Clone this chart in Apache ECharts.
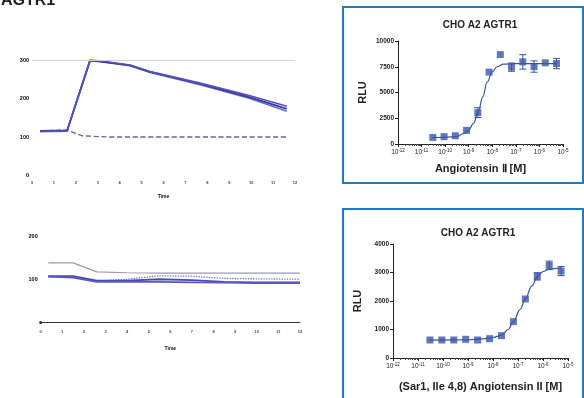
<!DOCTYPE html>
<html>
<head>
<meta charset="utf-8">
<script src="https://cdn.jsdelivr.net/npm/echarts@6/dist/echarts.min.js"></script>
<style>
  html, body { margin: 0; padding: 0; background: #fff; }
  #main { position: absolute; left: 0; top: 0; width: 584px; height: 398px; }
  #kin { position: absolute; left: 0; top: 0; width: 340px; height: 398px; filter: blur(0.5px); }
</style>
</head>
<body>
<div id="main"></div>
<div id="kin"></div>
<script>
// dose-response, concentration in M (3-fold dilutions)
const conc = [3e-11, 9e-11, 2.7e-10, 8.1e-10, 2.43e-9, 7.29e-9, 2.19e-8, 6.56e-8, 1.97e-7, 5.9e-7, 1.77e-6, 5.3e-6];
// Angiotensin II
const agRLU = [640, 710, 800, 1320, 3050, 6980, 8680, 7460, 7970, 7520, 7880, 7810];
const agErr = [0, 0, 0, 0, 480, 0, 0, 400, 700, 550, 0, 500];
const agFitX = [3e-11, 1e-10, 3e-10, 6e-10, 1e-9, 1.6e-9, 2.5e-9, 4e-9, 6e-9, 1e-8, 1.6e-8, 3e-8, 1e-7, 5.3e-6];
const agFitY = [630, 650, 720, 1000, 1350, 2000, 3100, 4600, 6000, 7000, 7500, 7750, 7800, 7800];
// (Sar1, Ile 4,8) Angiotensin II
const saRLU = [632, 632, 632, 655, 632, 678, 784, 1275, 2070, 2865, 3250, 3050];
const saErr = [0, 0, 0, 0, 0, 0, 0, 0, 0, 130, 150, 160];
const saFitX = [3e-11, 1e-9, 5e-9, 1e-8, 2.2e-8, 4e-8, 6.6e-8, 1.2e-7, 2e-7, 3.5e-7, 6e-7, 1e-6, 1.8e-6, 5.3e-6];
const saFitY = [630, 640, 680, 720, 800, 1000, 1280, 1700, 2080, 2520, 2850, 3030, 3120, 3160];

// kinetic traces (left)
const ktTime = [0.37, 1.6, 2.65, 3.1, 4.47, 5.39, 7.67, 9.95, 11.63];
const ktA = [115, 116, 300, 298, 287, 270, 240, 207, 180];
const ktB = [114, 115, 299, 297, 285, 268, 236, 200, 167];
const ktC = [116, 117, 298, 296, 286, 269, 238, 203, 173];
const ktCtrlTime = [0.37, 1.6, 2.3, 3.5, 11.7];
const ktCtrl = [116, 118, 103, 100, 100];

const kbTime = [0.35, 1.5, 2.6, 4, 5.5, 7, 8.5, 10, 12];
const kbGray = [138, 138, 117, 115, 114, 114, 114, 114, 114];
const kbBlue1 = [107, 107, 97, 97, 100, 98, 94, 93, 93];
const kbBlue2 = [105, 105, 96, 100, 108, 107, 102, 101, 100];
const kbBlue3 = [106, 104, 94, 94, 94, 93, 92, 91, 91];

const ptCol = '#3a55a6';
const boxCol = '#1b7cc4';
const font = 'Liberation Sans, Arial, sans-serif';

const zip = (xs, ys) => xs.map((x, i) => [x, ys[i]]);

// minor ticks 2..9 per decade
const minorVals = [];
for (let e = -12; e < -5; e++) {
  for (let m = 2; m <= 9; m++) minorVals.push(m * Math.pow(10, e));
}

function logAxes(grid, name, gap) {
  return [{
    type: 'log', gridIndex: grid, position: 'bottom', min: 1e-12, max: 1e-5, splitNumber: 7,
    name: name, nameLocation: 'middle', nameGap: gap,
    nameTextStyle: { fontFamily: font, fontSize: 11, fontWeight: 'bold', color: '#222' },
    axisLine: { lineStyle: { color: '#222', width: 1 } },
    axisTick: { length: 3, lineStyle: { color: '#222' } },
    splitLine: { show: false },
    axisLabel: {
      margin: 4, color: '#222',
      formatter: v => '{b|10}{e|' + Math.round(Math.log10(v)) + '}',
      rich: {
        b: { fontFamily: font, fontSize: 6.5, color: '#222', lineHeight: 8, verticalAlign: 'bottom' },
        e: { fontFamily: font, fontSize: 4.5, color: '#222', lineHeight: 8, verticalAlign: 'top' }
      }
    }
  }, {
    type: 'log', gridIndex: grid, position: 'bottom', min: 1e-12, max: 1e-5, splitNumber: 7,
    axisLine: { show: false },
    axisTick: { length: 2, customValues: minorVals, lineStyle: { color: '#444' } },
    axisLabel: { show: false },
    splitLine: { show: false }
  }];
}

function valAxis(grid, max, interval) {
  return {
    type: 'value', gridIndex: grid, min: 0, max: max, interval: interval,
    name: 'RLU', nameLocation: 'middle', nameGap: 30, nameRotate: 90,
    nameTextStyle: { fontFamily: font, fontSize: 11, fontWeight: 'bold', color: '#222' },
    axisLine: { show: true, lineStyle: { color: '#222', width: 1 } },
    axisTick: { show: true, length: 3, lineStyle: { color: '#222' } },
    splitLine: { show: false },
    axisLabel: { fontFamily: font, fontSize: 6.5, fontWeight: 'bold', color: '#222', margin: 4, formatter: v => String(v) }
  };
}

function errBars(ys, es, xi, yi) {
  const d = [];
  conc.forEach((x, i) => { if (es[i] > 0) d.push([x, ys[i] - es[i], ys[i] + es[i]]); });
  return {
    type: 'custom', xAxisIndex: xi, yAxisIndex: yi, data: d, silent: true, z: 3,
    renderItem: (params, api) => {
      const lo = api.coord([api.value(0), api.value(1)]);
      const hi = api.coord([api.value(0), api.value(2)]);
      const st = { stroke: ptCol, lineWidth: 1 };
      return {
        type: 'group', children: [
          { type: 'line', shape: { x1: lo[0], y1: lo[1], x2: hi[0], y2: hi[1] }, style: st },
          { type: 'line', shape: { x1: lo[0] - 3.5, y1: lo[1], x2: lo[0] + 3.5, y2: lo[1] }, style: st },
          { type: 'line', shape: { x1: hi[0] - 3.5, y1: hi[1], x2: hi[0] + 3.5, y2: hi[1] }, style: st }
        ]
      };
    }
  };
}

const main = echarts.init(document.getElementById('main'), null, { renderer: 'canvas' });
main.setOption({
  animation: false,
  grid: [
    { left: 398, top: 41, width: 165, height: 103 },
    { left: 393, top: 244, width: 175, height: 114 }
  ],
  xAxis: [].concat(logAxes(0, 'Angiotensin Ⅱ [M]', 19), logAxes(1, '(Sar1, Ile 4,8) Angiotensin II [M]', 23)),
  yAxis: [valAxis(0, 10000, 2500), valAxis(1, 4000, 1000)],
  graphic: [
    { type: 'text', x: 1, y: 1, style: { text: 'AGTR1', font: 'bold 16px ' + font, fill: '#222', textAlign: 'left', textVerticalAlign: 'middle', align: 'left', verticalAlign: 'middle' } },
    { type: 'rect', shape: { x: 343, y: 7, width: 240, height: 176 }, style: { fill: 'none', stroke: boxCol, lineWidth: 2 } },
    { type: 'rect', shape: { x: 343, y: 209, width: 240, height: 200 }, style: { fill: 'none', stroke: boxCol, lineWidth: 2 } },
    { type: 'text', x: 480, y: 25, style: { text: 'CHO A2 AGTR1', font: 'bold 10px ' + font, fill: '#222', textAlign: 'center', textVerticalAlign: 'middle', align: 'center', verticalAlign: 'middle' } },
    { type: 'text', x: 478, y: 233, style: { text: 'CHO A2 AGTR1', font: 'bold 10px ' + font, fill: '#222', textAlign: 'center', textVerticalAlign: 'middle', align: 'center', verticalAlign: 'middle' } }
  ],
  series: [
    { type: 'line', xAxisIndex: 0, yAxisIndex: 0, data: zip(agFitX, agFitY), smooth: 0.4, smoothMonotone: 'x', symbol: 'none', lineStyle: { color: ptCol, width: 1.2 }, silent: true },
    errBars(agRLU, agErr, 0, 0),
    { type: 'scatter', xAxisIndex: 0, yAxisIndex: 0, data: zip(conc, agRLU), symbol: 'rect', symbolSize: 7, itemStyle: { color: ptCol }, z: 4 },
    { type: 'line', xAxisIndex: 2, yAxisIndex: 1, data: zip(saFitX, saFitY), smooth: 0.4, smoothMonotone: 'x', symbol: 'none', lineStyle: { color: ptCol, width: 1.2 }, silent: true },
    errBars(saRLU, saErr, 2, 1),
    { type: 'scatter', xAxisIndex: 2, yAxisIndex: 1, data: zip(conc, saRLU), symbol: 'rect', symbolSize: 7, itemStyle: { color: ptCol }, z: 4 }
  ]
});

// left: kinetic read-outs
const kin = echarts.init(document.getElementById('kin'), null, { renderer: 'canvas' });
const kx = (grid, gap, margin, showLine) => ({
  type: 'value', gridIndex: grid, min: 0, max: 12, interval: 1,
  name: 'Time', nameLocation: 'middle', nameGap: gap,
  nameTextStyle: { fontFamily: font, fontSize: 5, fontWeight: 'bold', color: '#111' },
  axisLine: { show: showLine, symbol: ['circle', 'none'], symbolSize: [3, 3], lineStyle: { color: '#333', width: 1 } },
  axisTick: { show: false },
  splitLine: { show: false },
  axisLabel: { fontFamily: font, fontSize: 4, fontWeight: 'bold', color: '#444', margin: margin }
});
const ky = (grid, max, showMin) => ({
  type: 'value', gridIndex: grid, min: 0, max: max, interval: 100,
  axisLine: { show: false }, axisTick: { show: false }, splitLine: { show: false },
  axisLabel: { fontFamily: font, fontSize: 5.5, fontWeight: 'bold', color: '#000', margin: 3, showMinLabel: showMin }
});
const trace = (gi, xs, ys, color, width, type) => ({
  type: 'line', xAxisIndex: gi, yAxisIndex: gi, data: zip(xs, ys), symbol: 'none', silent: true,
  lineStyle: { color: color, width: width, type: type || 'solid' }
});
kin.setOption({
  animation: false,
  grid: [
    { left: 32, top: 60, width: 263, height: 115.5 },
    { left: 40.7, top: 236, width: 259.3, height: 86.5 }
  ],
  xAxis: [kx(0, 19, 5, false), kx(1, 24, 7, true)],
  yAxis: [ky(0, 300, true), ky(1, 200, false)],
  series: [
    Object.assign(trace(0, ktCtrlTime, ktCtrl, '#66669a', 1.3, 'dashed'), {
      markLine: { silent: true, symbol: 'none', label: { show: false }, data: [{ yAxis: 300 }], lineStyle: { color: '#d0d0d0', width: 1, type: 'solid' } }
    }),
    trace(0, ktTime, ktB, '#6a6ad0', 1.7),
    trace(0, ktTime, ktC, '#3c3c9c', 1.7),
    trace(0, ktTime, ktA, '#5252b6', 1.7),
    trace(1, kbTime, kbGray, '#9a9ab4', 1.2),
    trace(1, kbTime, kbBlue2, '#7070c8', 1.3, 'dotted'),
    trace(1, kbTime, kbBlue1, '#4a4ab4', 1.8),
    trace(1, kbTime, kbBlue3, '#5858c0', 1.8)
  ]
});
</script>
</body>
</html>
